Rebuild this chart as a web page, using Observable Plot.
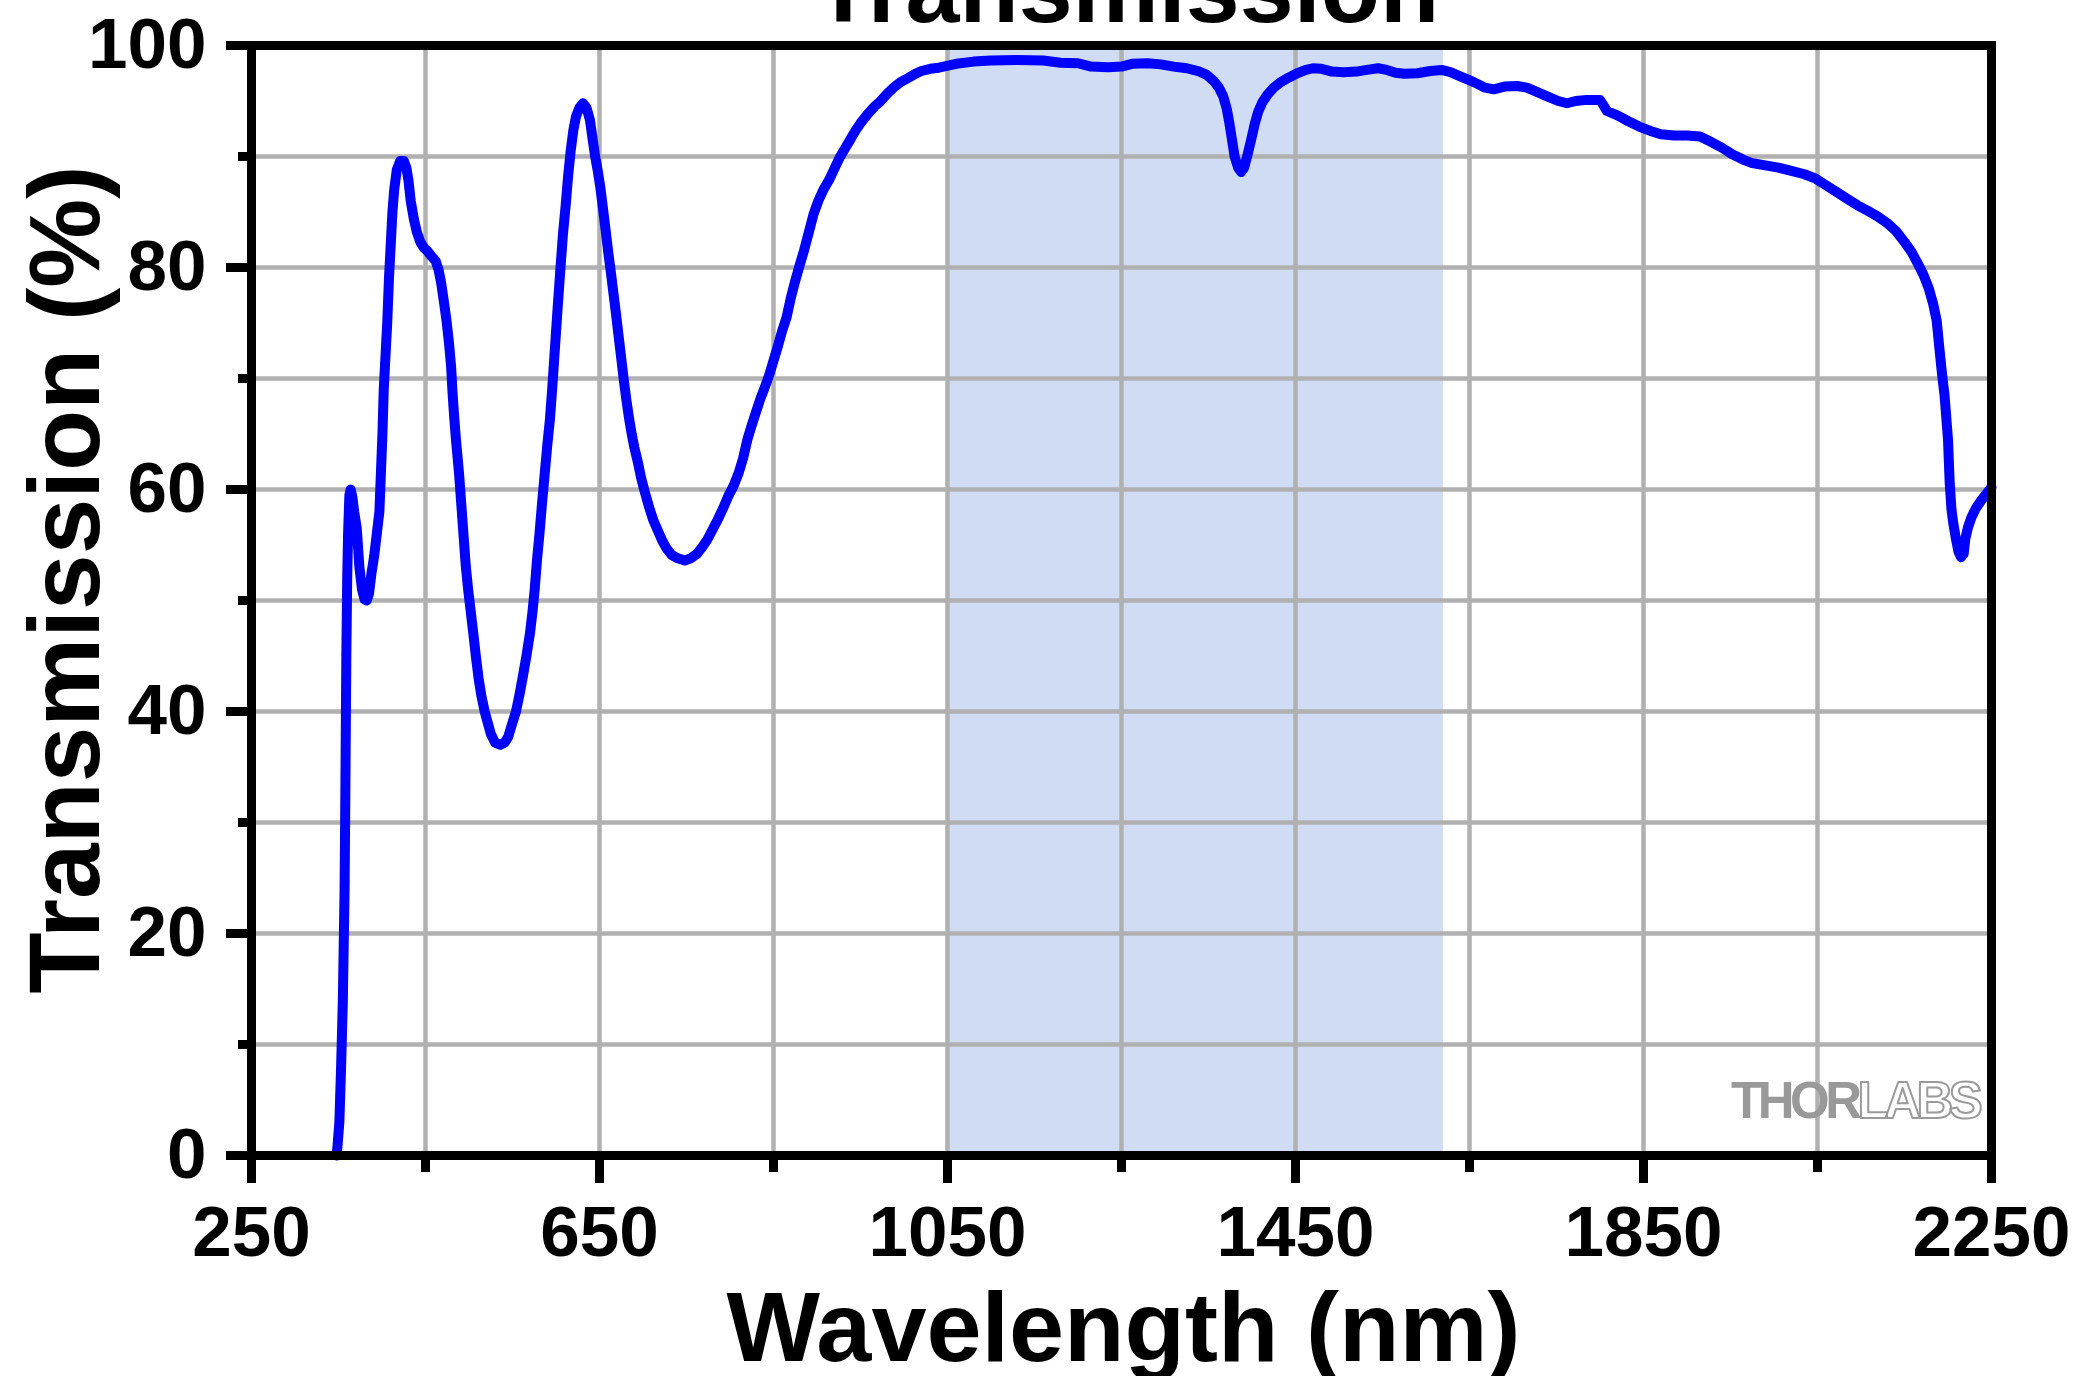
<!DOCTYPE html>
<html>
<head>
<meta charset="utf-8">
<script src="https://cdn.jsdelivr.net/npm/d3@7"></script>
<script src="https://cdn.jsdelivr.net/npm/@observablehq/plot@0.6"></script>
<style>
  html, body { margin: 0; padding: 0; background: #ffffff; }
  #chart { width: 2075px; height: 1376px; overflow: hidden; }
</style>
</head>
<body>
<div id="chart"></div>
<script>
// ---- data ----
const wavelength = [
  348, 351, 353, 355, 357, 358, 359, 360, 361, 362.5, 364, 366, 368, 371, 374, 377, 380, 382.5, 385, 388,
  391, 394, 397, 399, 400.5, 402, 404, 406, 408, 410, 412, 414, 417, 421, 425, 428, 430.5, 433, 436.5, 440,
  444, 448, 452, 457, 461.6, 465, 468, 471, 474, 477, 479.5, 481, 483, 485, 488.6, 492.5, 496.3, 499, 502, 505,
  508, 511, 514, 518, 521.5, 525, 530, 536, 541, 545, 550, 554, 558, 562, 566, 570, 573, 575.5, 578, 581,
  584, 587, 590, 593, 596, 599, 602, 605, 608, 611, 614, 617, 620, 623, 627, 631, 635, 639, 642, 645,
  648, 651, 654, 657, 660, 663, 666, 669, 672, 675, 678, 681, 684, 687, 690, 694, 698, 702, 707, 712,
  717, 722, 727, 733, 740, 748, 755, 762, 768, 774, 780, 786, 792, 798, 804, 810, 815, 820, 825, 830,
  835, 840, 845, 850, 855, 860, 865, 870, 875, 880, 885, 890, 896, 902, 908, 914, 920, 926, 932, 938,
  944, 950, 958, 966, 972, 980, 988, 996, 1003, 1012, 1020, 1030, 1040, 1060, 1080, 1100, 1130, 1160, 1180, 1200,
  1215, 1235, 1250, 1262, 1280, 1295, 1310, 1325, 1338, 1348, 1356, 1362, 1367, 1371, 1374, 1377, 1380, 1384, 1387.5, 1391,
  1395, 1399, 1403, 1407, 1412, 1418, 1425, 1433, 1442, 1452, 1462, 1470, 1480, 1492, 1505, 1520, 1532, 1545, 1555, 1565,
  1575, 1590, 1605, 1618, 1628, 1640, 1655, 1668, 1678, 1690, 1705, 1716, 1728, 1740, 1752, 1762, 1772, 1785, 1800, 1804,
  1808, 1820, 1832, 1845, 1858, 1870, 1885, 1900, 1915, 1928, 1940, 1952, 1965, 1975, 1990, 2005, 2020, 2035, 2048, 2060,
  2072, 2084, 2096, 2108, 2119, 2130, 2140, 2150, 2158, 2165, 2172, 2178, 2183, 2187, 2190, 2193, 2196, 2198, 2200, 2202,
  2204, 2206, 2209, 2212, 2215, 2218, 2220, 2223, 2227, 2232, 2238, 2245, 2250
];
const transmission = [
  0, 3, 8, 14, 24, 34, 45, 52, 56, 59.5, 60, 59.3, 58, 56.5, 53, 51, 50.1, 50, 50.6, 52.5,
  54, 56, 58, 62, 65, 69, 72, 75, 79, 82, 85, 87, 88.8, 89.6, 89.6, 89, 87.8, 86, 84.4, 83.2,
  82.3, 81.8, 81.5, 81, 80.6, 79.8, 78.6, 77, 75.3, 73.2, 71, 68.8, 66.5, 64.5, 61.4, 57.2, 53.1, 51, 49, 47,
  44.9, 43, 41.5, 40, 39, 38, 37.2, 37, 37.2, 37.7, 39, 40, 41.5, 43.2, 45, 47, 49, 51, 53.5, 56,
  58.8, 61.4, 64, 66.3, 69.5, 73, 76.5, 79.8, 83, 85.5, 88.3, 90.6, 92.4, 93.6, 94.4, 94.8, 94.4, 93.3, 91.6, 90,
  88.7, 87.2, 85.3, 83.4, 81.4, 79.6, 77.7, 75.8, 73.8, 71.8, 69.8, 68, 66.4, 65, 63.8, 62.5, 61, 59.8, 58.4, 57.2,
  56.3, 55.4, 54.7, 54.1, 53.8, 53.6, 53.8, 54.2, 54.8, 55.5, 56.4, 57.3, 58.3, 59.4, 60.3, 61.5, 62.8, 64.5, 65.8, 67,
  68.2, 69.2, 70.3, 71.6, 72.9, 74.3, 75.5, 77.3, 78.8, 80.2, 81.5, 83, 84.8, 86.1, 87.1, 87.9, 88.9, 89.9, 90.7, 91.5,
  92.3, 93, 93.8, 94.5, 94.9, 95.6, 96.2, 96.7, 97.0, 97.4, 97.7, 97.9, 98.0, 98.35, 98.55, 98.65, 98.7, 98.65, 98.45, 98.4,
  98.1, 98.05, 98.1, 98.35, 98.4, 98.3, 98.1, 97.95, 97.7, 97.35, 96.8, 96.2, 95.4, 94.3, 93.0, 91.5, 90.0, 89.0, 88.6, 89.0,
  90.2, 91.5, 92.9, 94.0, 94.9, 95.6, 96.2, 96.7, 97.1, 97.5, 97.8, 97.95, 97.9, 97.65, 97.6, 97.65, 97.8, 97.95, 97.8, 97.55,
  97.45, 97.5, 97.7, 97.8, 97.6, 97.2, 96.7, 96.2, 96.05, 96.3, 96.35, 96.2, 95.8, 95.4, 95.0, 94.8, 95.0, 95.1, 95.1, 94.6,
  94.1, 93.7, 93.2, 92.7, 92.3, 92.0, 91.9, 91.9, 91.8, 91.3, 90.8, 90.2, 89.7, 89.4, 89.2, 89.0, 88.7, 88.4, 88.0, 87.4,
  86.8, 86.2, 85.6, 85.1, 84.6, 84.0, 83.3, 82.3, 81.4, 80.4, 79.3, 78.1, 76.7, 75.2, 72.8, 70.5, 68.5, 66.5, 64.5, 60.5,
  58.2, 57, 55.6, 54.4, 53.9, 54.2, 55.6, 56.6, 57.5, 58.3, 59, 59.7, 60.2
];
const bandRange = [1050, 1620];
const xMajorTicks = [250, 650, 1050, 1450, 1850, 2250];
const xMinorTicks = [450, 850, 1250, 1650, 2050];
const xGridTicks = [450, 650, 850, 1050, 1250, 1450, 1650, 1850, 2050];
const yMajorTicks = [0, 20, 40, 60, 80, 100];
const yMinorTicks = [10, 30, 50, 70, 90];
const yGridTicks = [10, 20, 30, 40, 50, 60, 70, 80, 90];
const chartTitle = "Transmission";
const xTitle = "Wavelength (nm)";
const yTitle = "Transmission (%)";
const logoA = "THOR";
const logoB = "LABS";

// ---- build ----
const data = wavelength.map((w, i) => ({wl: w, t: transmission[i]}));
const band = [{x1: bandRange[0], x2: bandRange[1]}];
const FONT = "'Liberation Sans', Arial, Helvetica, sans-serif";

const plot = Plot.plot({
  width: 2075,
  height: 1376,
  marginLeft: 251,
  marginRight: 84,
  marginTop: 45,
  marginBottom: 221,
  x: {type: "linear", domain: [250, 2250]},
  y: {type: "linear", domain: [0, 100]},
  style: {fontFamily: FONT, background: "#ffffff", color: "#000000"},
  marks: [
    Plot.rect(band, {x1: "x1", x2: "x2", y1: 0, y2: 100, fill: "#cfdcf3"}),
    Plot.gridX(xGridTicks, {stroke: "#b0b0b0", strokeOpacity: 1, strokeWidth: 4.5}),
    Plot.gridY(yGridTicks, {stroke: "#b0b0b0", strokeOpacity: 1, strokeWidth: 4.5}),
    Plot.line(data, {x: "wl", y: "t", stroke: "#0000ff", strokeWidth: 10, strokeLinejoin: "round"}),
    Plot.axisX(xMajorTicks, {anchor: "bottom", tickSize: 28, tickPadding: 22, strokeWidth: 9, fontSize: 71, fontWeight: "bold", fill: "#000", tickFormat: d => String(d), label: null}),
    Plot.axisX(xMinorTicks, {anchor: "bottom", tickSize: 17, strokeWidth: 9, text: null, label: null}),
    Plot.axisY(yMajorTicks, {anchor: "left", tickSize: 25, tickPadding: 20, strokeWidth: 9, fontSize: 71, fontWeight: "bold", fill: "#000", tickFormat: d => String(d), label: null}),
    Plot.axisY(yMinorTicks, {anchor: "left", tickSize: 13, strokeWidth: 9, text: null, label: null}),
    Plot.frame({stroke: "#000000", strokeWidth: 9}),
    Plot.text([chartTitle], {frameAnchor: "top", dx: 5, dy: -24, lineAnchor: "bottom", fontSize: 97, fontWeight: "bold", fill: "#000"}),
    Plot.text([xTitle], {frameAnchor: "bottom", dx: 2, dy: 205, lineAnchor: "bottom", fontSize: 99, fontWeight: "bold", fill: "#000"}),
    Plot.text([yTitle], {frameAnchor: "left", rotate: -90, dx: -153, dy: -21, lineAnchor: "bottom", textAnchor: "middle", fontSize: 100, fontWeight: "bold", fill: "#000"}),
    Plot.text([logoA], {frameAnchor: "bottom-right", dx: -134, dy: -38, textAnchor: "end", lineAnchor: "bottom", fontSize: 51, fontWeight: "bold", fill: "#999999"}),
    Plot.text([logoB], {frameAnchor: "bottom-right", dx: -134, dy: -38, textAnchor: "start", lineAnchor: "bottom", fontSize: 51, fontWeight: "bold", fill: "#ffffff", stroke: "#9a9a9a", strokeWidth: 2, paintOrder: "normal"})
  ]
});

d3.select(plot).selectAll("text")
  .filter(function() { return this.textContent === logoA || this.textContent === logoB; })
  .style("letter-spacing", "-4.5px");
document.getElementById("chart").appendChild(plot);
</script>
</body>
</html>
